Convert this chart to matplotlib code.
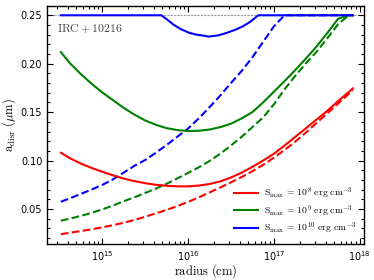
import numpy as np
import matplotlib.pyplot as plt
from matplotlib.ticker import MultipleLocator, LogLocator, NullFormatter

plt.rcParams['mathtext.fontset'] = 'cm'

# log10 radius grid (cm)
log_r = [14.52, 14.625, 14.75, 14.875, 15.0, 15.125, 15.25, 15.375, 15.5, 15.625,
         15.75, 15.875, 16.0, 16.125, 16.25, 16.375, 16.5, 16.625, 16.75, 16.875,
         17.0, 17.125, 17.25, 17.375, 17.5, 17.625, 17.75, 17.875, 17.92]

# a_disr (um); solid and dashed curves for each S_max
red_solid = [0.108, 0.1025, 0.097, 0.0925, 0.0885, 0.0848, 0.0815, 0.0788, 0.0767, 0.075,
             0.0740, 0.0734, 0.0734, 0.0742, 0.0758, 0.0785, 0.0825, 0.0875, 0.0935, 0.100,
             0.107, 0.1155, 0.1245, 0.1335, 0.1425, 0.1515, 0.1615, 0.171, 0.1745]
red_dash = [0.024, 0.0255, 0.0272, 0.029, 0.031, 0.0333, 0.0358, 0.0387, 0.042, 0.0455,
            0.049, 0.053, 0.0573, 0.062, 0.067, 0.0722, 0.0775, 0.083, 0.089, 0.0955,
            0.103, 0.111, 0.1195, 0.129, 0.139, 0.149, 0.159, 0.169, 0.173]
green_solid = [0.212, 0.2005, 0.1895, 0.1795, 0.1705, 0.1625, 0.1545, 0.1475, 0.1415, 0.137,
               0.1335, 0.1315, 0.1305, 0.1308, 0.132, 0.1345, 0.138, 0.1435, 0.150, 0.160,
               0.171, 0.182, 0.1935, 0.2055, 0.218, 0.232, 0.2465, 0.25, 0.25]
green_dash = [0.038, 0.040, 0.0428, 0.046, 0.0495, 0.0535, 0.058, 0.062, 0.0665, 0.071,
              0.076, 0.0815, 0.0872, 0.093, 0.0995, 0.107, 0.1155, 0.1245, 0.1345, 0.1445,
              0.158, 0.1735, 0.1875, 0.2005, 0.2125, 0.2265, 0.241, 0.25, 0.25]
blue_dash = [0.0575, 0.061, 0.0655, 0.070, 0.0748, 0.0805, 0.0875, 0.0945, 0.1005, 0.108,
             0.116, 0.1245, 0.133, 0.1435, 0.155, 0.167, 0.180, 0.1925, 0.2065, 0.2225,
             0.2385, 0.25, 0.25, 0.25, 0.25, 0.25, 0.25, 0.25, 0.25]

# solid blue curve sits on the 0.25 cap except for a dip, own grid
log_r_blue = [14.52, 15.69, 15.76, 15.83, 15.92, 16.02, 16.1, 16.18, 16.24, 16.35,
              16.45, 16.55, 16.64, 16.72, 16.76, 16.82, 17.92]
blue_solid = [0.25, 0.25, 0.2455, 0.2404, 0.2355, 0.2318, 0.2300, 0.2290, 0.2280, 0.2292,
              0.2318, 0.2350, 0.2386, 0.2430, 0.2458, 0.25, 0.25]

a_max = 0.25
labels = [r'$\mathrm{S_{max}}\,=\,10^{8}\ \mathrm{erg\ cm^{-3}}$',
          r'$\mathrm{S_{max}}\,=\,10^{9}\ \mathrm{erg\ cm^{-3}}$',
          r'$\mathrm{S_{max}}\,=\,10^{10}\ \mathrm{erg\ cm^{-3}}$']

fig = plt.figure(figsize=(3.74, 2.8), dpi=100)
ax = fig.add_axes([0.126, 0.129, 0.847, 0.851])

r = 10 ** np.array(log_r)
rb = 10 ** np.array(log_r_blue)

ax.axhline(a_max, color='#999999', ls='--', lw=0.8, dashes=(2, 1), zorder=1)

lw = 1.5
ax.plot(r, red_dash, '--', color='red', lw=lw)
ax.plot(r, green_dash, '--', color='green', lw=lw)
ax.plot(r, blue_dash, '--', color='blue', lw=lw)
ax.plot(r, red_solid, '-', color='red', lw=lw, label=labels[0])
ax.plot(r, green_solid, '-', color='green', lw=lw, label=labels[1])
ax.plot(rb, blue_solid, '-', color='blue', lw=lw, label=labels[2])

ax.set_xscale('log')
ax.set_xlim(2.29e14, 1.12e18)
ax.set_ylim(0.014, 0.26)
ax.yaxis.set_major_locator(MultipleLocator(0.05))
ax.yaxis.set_minor_locator(MultipleLocator(0.01))
ax.xaxis.set_major_locator(LogLocator(base=10, numticks=10))
ax.xaxis.set_minor_locator(LogLocator(base=10, subs=np.arange(2, 10), numticks=10))
ax.xaxis.set_minor_formatter(NullFormatter())
ax.yaxis.set_major_formatter(plt.FuncFormatter(lambda v, p: f'{v:.2f}'))

ax.tick_params(which='both', direction='in', top=True, right=True, labelsize=7, width=0.8)
ax.tick_params(which='major', length=4.5)
ax.tick_params(which='minor', length=2.4)
for s in ax.spines.values():
    s.set_linewidth(1.0)

ax.set_xlabel(r'$\mathrm{radius\ (cm)}$', fontsize=9, labelpad=0)
ax.set_ylabel(r'$\mathrm{a_{disr}}\ (\mu\mathrm{m})$', fontsize=9, labelpad=2)

ax.text(0.03, 0.89, r'$\mathrm{IRC+10216}$', transform=ax.transAxes,
        fontsize=8.5, color='#444444')

ax.legend(loc='lower right', frameon=False, fontsize=7, handlelength=2.4,
          labelspacing=0.2, borderaxespad=0.4, handletextpad=0.6)

fig.savefig('out.png', dpi=100)
